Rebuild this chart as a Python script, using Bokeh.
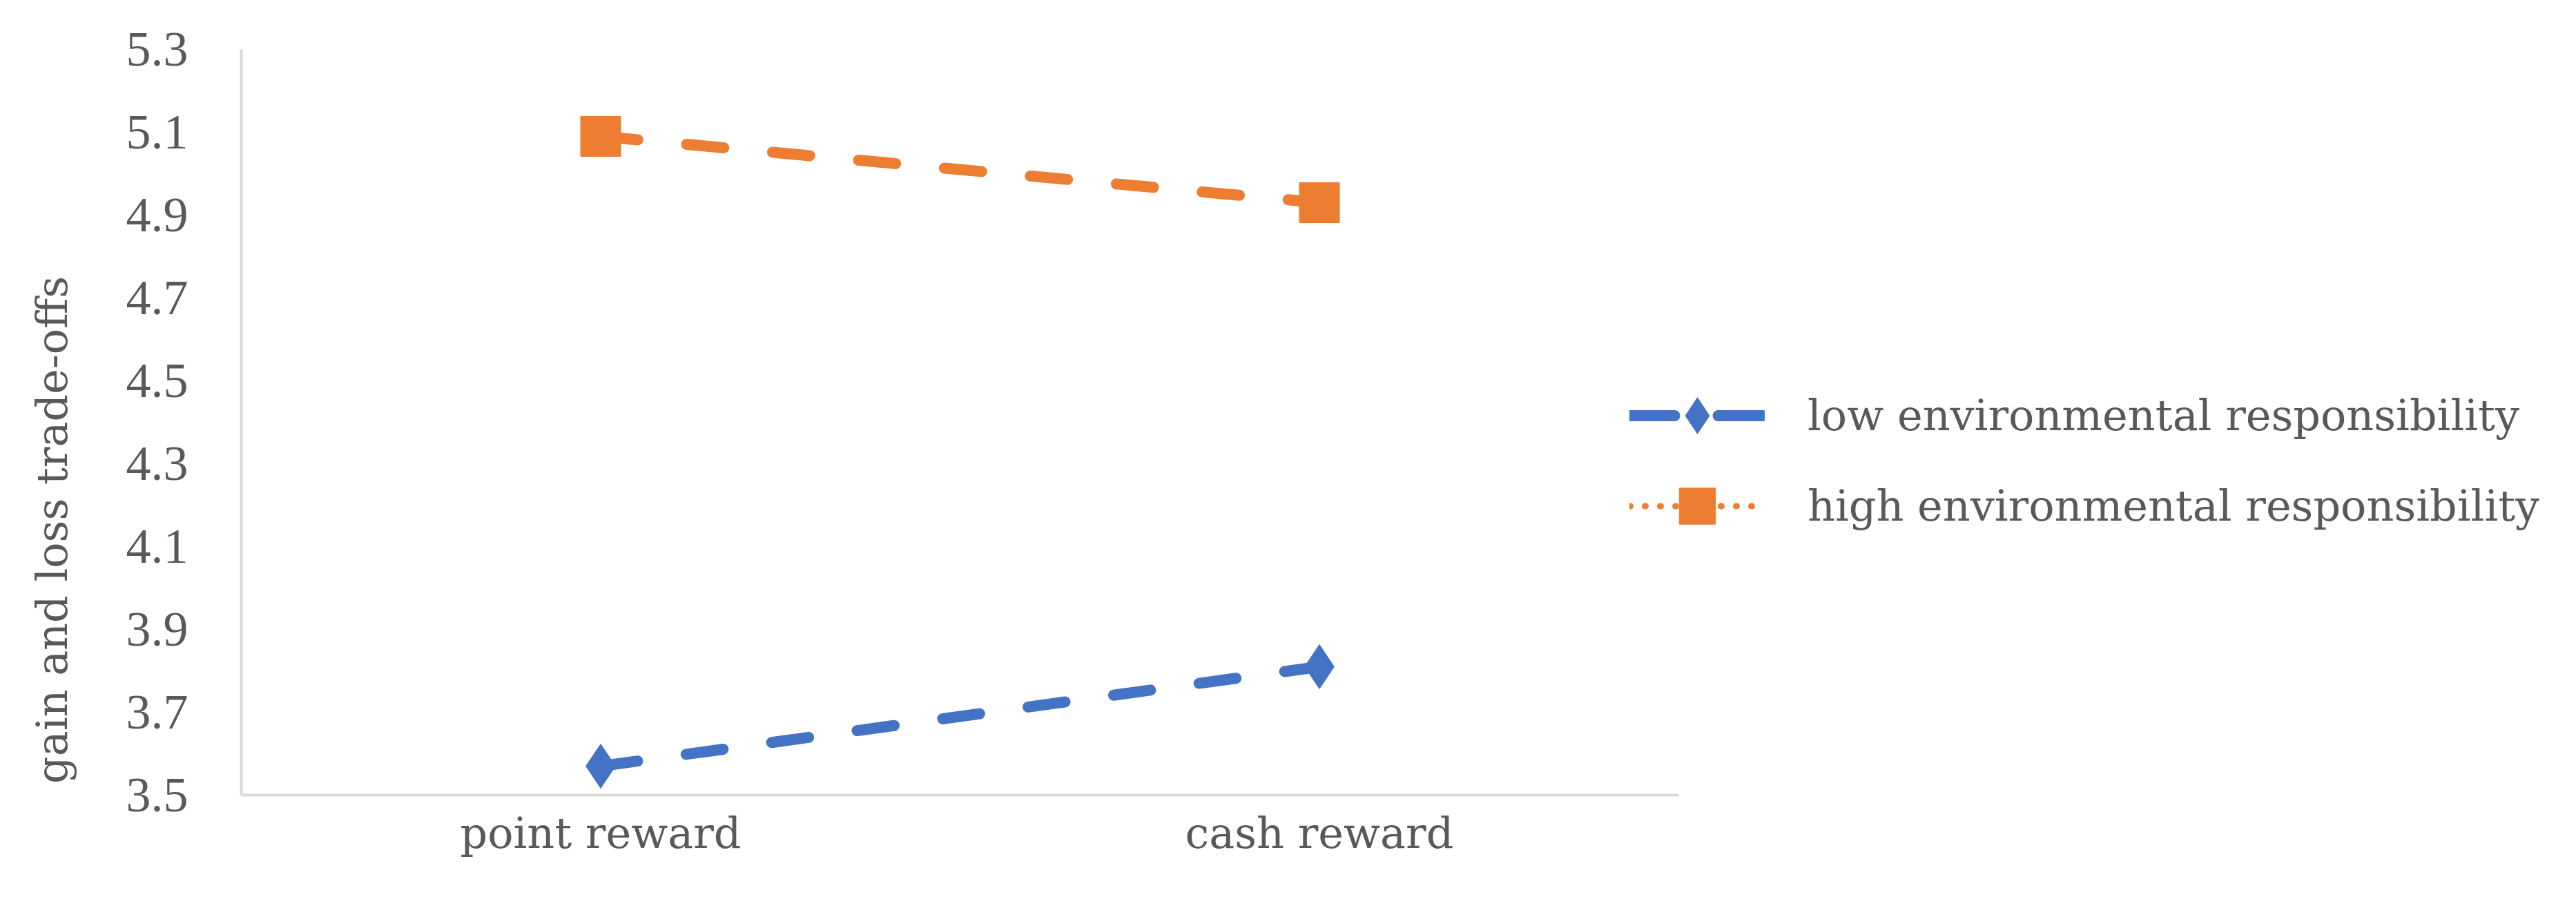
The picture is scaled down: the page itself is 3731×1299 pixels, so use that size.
import math
from bokeh.plotting import figure
from bokeh.models import (Range1d, FixedTicker, Legend, LegendItem,
                          Label, ColumnDataSource)
from bokeh.embed import file_html
from bokeh.resources import INLINE

# ---- data ----
categories = ["point reward", "cash reward"]
low_resp = [3.57, 3.81]
high_resp = [5.09, 4.93]
y_ticks = [3.5, 3.7, 3.9, 4.1, 4.3, 4.5, 4.7, 4.9, 5.1, 5.3]
y_tick_labels = ["3.5", "3.7", "3.9", "4.1", "4.3", "4.5", "4.7", "4.9", "5.1", "5.3"]
series_names = ["low environmental responsibility", "high environmental responsibility"]
y_label = "gain and loss trade-offs"

BLUE = "#4472C4"
ORANGE = "#ED7D31"
TXT = "#595959"
AXIS = "#D9D9D9"

# ---- layout (canvas pixels) ----
W, H = 3715, 1283
AX_LEFT, AX_RIGHT = 349, 2431          # category axis extent
AX_TOP, AX_BOTTOM = 71, 1151           # value axis extent
n = len(categories)
ux = (AX_RIGHT - AX_LEFT) / n                          # px per category slot
uy = (AX_BOTTOM - AX_TOP) / (y_ticks[-1] - y_ticks[0])  # px per value unit

x_pos = [i + 0.5 for i in range(n)]   # category slot centres

p = figure(width=W, height=H,
           x_range=Range1d(-AX_LEFT / ux, (W - AX_LEFT) / ux),
           y_range=Range1d(y_ticks[0] - (H - AX_BOTTOM) / uy,
                           y_ticks[-1] + AX_TOP / uy),
           output_backend="svg", toolbar_location=None,
           min_border_left=0, min_border_right=0,
           min_border_top=0, min_border_bottom=0)

p.outline_line_color = None
p.xgrid.grid_line_color = None
p.ygrid.grid_line_color = None
p.background_fill_color = "white"
p.border_fill_color = "white"

for ax in (p.xaxis[0], p.yaxis[0]):
    ax.axis_line_color = AXIS
    ax.axis_line_width = 4
    ax.major_tick_line_color = None
    ax.minor_tick_line_color = None
    ax.major_tick_out = 0
    ax.major_tick_in = 0
    ax.minor_tick_out = 0
    ax.major_label_text_color = TXT

p.yaxis.fixed_location = 0
p.yaxis.bounds = (y_ticks[0], y_ticks[-1])
p.yaxis.ticker = FixedTicker(ticks=y_ticks)
p.yaxis.major_label_overrides = {t: l for t, l in zip(y_ticks, y_tick_labels)}
p.yaxis.major_label_text_font = "Liberation Serif"
p.yaxis.major_label_text_font_size = "72px"
p.yaxis.major_label_standoff = 77

p.xaxis.fixed_location = y_ticks[0]
p.xaxis.bounds = (0, n)
p.xaxis.ticker = FixedTicker(ticks=x_pos)
p.xaxis.major_label_overrides = {x: c for x, c in zip(x_pos, categories)}
p.xaxis.major_label_text_font = "DejaVu Serif"
p.xaxis.major_label_text_font_size = "62px"
p.xaxis.major_label_standoff = 18

# series
src_low = ColumnDataSource(dict(x=x_pos, y=low_resp))
src_high = ColumnDataSource(dict(x=x_pos, y=high_resp))

p.line("x", "y", source=src_low, line_color=BLUE, line_width=16,
       line_dash="54 71", line_cap="round")
p.line("x", "y", source=src_high, line_color=ORANGE, line_width=16,
       line_dash="54 71", line_cap="round")
p.scatter("x", "y", source=src_low, marker="diamond", size=64,
          fill_color=BLUE, line_color=BLUE)
p.scatter("x", "y", source=src_high, marker="square", size=58,
          fill_color=ORANGE, line_color=ORANGE)

# legend with dedicated (undrawn, NaN) renderers carrying the legend styling
nan = float("nan")
leg_src = ColumnDataSource(dict(x=[nan], y=[nan]))
lb_line = p.line("x", "y", source=leg_src, line_color=BLUE, line_width=16,
                 line_dash="65 63", line_cap="round")
lb_mark = p.scatter("x", "y", source=leg_src, marker="diamond", size=52,
                    fill_color=BLUE, line_color=BLUE)
lo_line = p.line("x", "y", source=leg_src, line_color=ORANGE, line_width=9,
                 line_dash="1 21", line_cap="round")
lo_mark = p.scatter("x", "y", source=leg_src, marker="square", size=52,
                    fill_color=ORANGE, line_color=ORANGE)

legend = Legend(items=[
    LegendItem(label=series_names[0], renderers=[lb_line, lb_mark]),
    LegendItem(label=series_names[1], renderers=[lo_line, lo_mark]),
], location=(2360, 485))
legend.glyph_width = 196
legend.glyph_height = 131
legend.spacing = 0
legend.padding = 0
legend.margin = 0
legend.label_standoff = 62
legend.label_text_font = "DejaVu Serif"
legend.label_text_font_size = "62px"
legend.label_text_color = TXT
legend.border_line_color = None
legend.background_fill_alpha = 0
p.add_layout(legend, "center")

# y axis title, placed as in the original (somewhat below centre)
p.add_layout(Label(x=75, y=516, x_units="screen", y_units="screen",
                   text=y_label, angle=math.pi / 2,
                   text_align="center", text_baseline="middle",
                   text_font="DejaVu Serif", text_font_size="62px",
                   text_color=TXT))

open("out.html", "w").write(file_html(p, INLINE))
